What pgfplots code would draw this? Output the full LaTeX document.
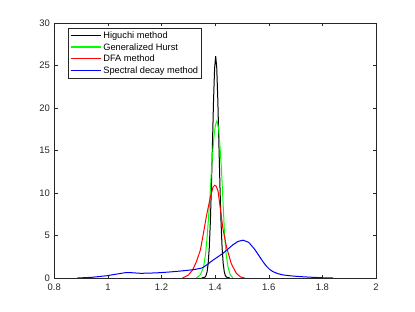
\documentclass[border=0pt]{standalone}
\usepackage{pgfplots}
\pgfplotsset{compat=1.18}
\usepackage{fontspec}
\setmainfont{Liberation Sans}
\definecolor{axgray}{rgb}{0.15,0.15,0.15}
\begin{document}
\begin{tikzpicture}
\begin{axis}[
  scale only axis, width=321.7bp, height=255bp,
  xmin=0.8, xmax=2, ymin=0, ymax=30,
  xtick={0.8,1,1.2,1.4,1.6,1.8,2},
  xticklabels={0.8,1,1.2,1.4,1.6,1.8,2},
  ytick={0,5,10,15,20,25,30},
  yticklabels={0,5,10,15,20,25,30},
  tick align=inside, tick pos=both,
  major tick length=3.5bp,
  axis line style={draw=axgray, line width=0.5pt},
  every tick/.style={draw=axgray, line width=0.5pt},
  tick label style={font=\fontsize{9.5}{10}\selectfont, text=axgray},
  xticklabel style={yshift=-2.5bp},
  yticklabel style={xshift=-1bp},
  /pgf/number format/assume math mode=true,
  legend style={at={(0.0435,0.98)}, anchor=north west, draw=axgray, line width=0.5pt,
    font=\fontsize{9.3}{10}\selectfont, inner sep=1.5bp, row sep=-0.5bp},
  legend cell align=left,
  legend image code/.code={\draw[#1, line width=1.3bp] (0bp,0.5bp) -- (30bp,0.5bp);},
]
\addplot[draw=black, line width=1bp] coordinates {
(1.350,0) (1.362,0.10) (1.366,0.29) (1.370,0.74) (1.374,1.72) (1.378,3.53) (1.382,6.5)
(1.386,10.7) (1.390,15.8) (1.394,20.9) (1.398,24.7) (1.402,26.1) (1.406,24.7)
(1.410,20.9) (1.414,15.8) (1.418,10.7) (1.422,6.5) (1.426,3.53) (1.430,1.72)
(1.434,0.74) (1.438,0.29) (1.442,0.10) (1.455,0)
};
\addlegendentry{Higuchi method}
\addplot[draw=green, line width=1bp] coordinates {
(1.330,0) (1.345,0.4) (1.357,1.3) (1.365,3.0) (1.371,5.2) (1.380,9.2) (1.387,13.1)
(1.395,16.5) (1.401,18.0) (1.407,18.5) (1.413,17.6) (1.418,15.5) (1.423,13.1)
(1.429,9.2) (1.435,5.2) (1.441,2.8) (1.448,1.3) (1.456,0.4) (1.466,0)
};
\addlegendentry{Generalized Hurst}
\addplot[draw=red, line width=1bp] coordinates {
(1.278,0) (1.300,0.35) (1.315,0.9) (1.330,1.9) (1.345,3.3) (1.357,5.4) (1.367,7.2)
(1.380,9.2) (1.392,10.7) (1.398,10.9) (1.404,10.8) (1.411,10.2) (1.420,8.0)
(1.429,5.8) (1.442,3.7) (1.460,1.7) (1.479,0.55) (1.495,0.12) (1.510,0)
};
\addlegendentry{DFA method}
\addplot[draw=blue, line width=1bp] coordinates {
(0.886,0) (0.94,0.08) (0.997,0.27) (1.03,0.45) (1.066,0.63) (1.09,0.62) (1.122,0.55)
(1.16,0.58) (1.196,0.63) (1.235,0.72) (1.271,0.82) (1.32,0.98) (1.351,1.18)
(1.367,1.5) (1.392,2.1) (1.429,2.9) (1.466,3.9) (1.485,4.3) (1.504,4.45)
(1.525,4.2) (1.547,3.4) (1.566,2.5) (1.580,1.85) (1.591,1.4) (1.603,1.02)
(1.615,0.76) (1.633,0.52) (1.653,0.36) (1.680,0.26)
(1.702,0.2) (1.735,0.13) (1.764,0.08) (1.80,0.03) (1.84,0)
};
\addlegendentry{Spectral decay method}
\end{axis}
\pgfresetboundingbox
\path (current axis.south west) ++(-54.3bp,-34bp) rectangle ++(415bp,312bp);
\end{tikzpicture}
\end{document}
